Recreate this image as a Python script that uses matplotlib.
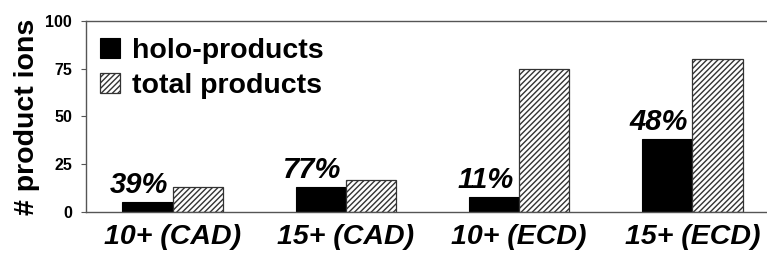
import matplotlib
matplotlib.use("Agg")
import matplotlib.pyplot as plt
import numpy as np

plt.rcParams['font.family'] = ['Liberation Sans', 'DejaVu Sans']
plt.rcParams['hatch.linewidth'] = 1.0

categories = ["10+ (CAD)", "15+ (CAD)", "10+ (ECD)", "15+ (ECD)"]
holo = [5, 13, 8, 38]
total = [13, 17, 75, 80]
pct_labels = ["39%", "77%", "11%", "48%"]
yticks = [0, 25, 50, 75, 100]

fig = plt.figure(figsize=(7.67, 2.57), dpi=100)
W, H = 767, 257
ax = fig.add_axes([86 / W, 45 / H, (779 - 86) / W, 191 / H])

x = np.arange(len(categories))
w = 0.29
ax.bar(x - w / 2, holo, w, color='black', edgecolor='black', linewidth=0.8,
       label='holo-products')
ax.bar(x + w / 2, total, w, color='white', edgecolor='#333333', hatch='//////',
       linewidth=0.9, label='total products')

for xi, h, t in zip(x, holo, pct_labels):
    ax.annotate(t, (xi - w / 2, h), xytext=(-6, 6.5), textcoords='offset points',
                ha='center', va='baseline', fontsize=21, fontweight='bold',
                fontstyle='italic')

ax.set_xlim(-0.5, 3.5)
ax.set_ylim(0, 100)
ax.set_yticks(yticks)
ax.set_yticklabels([str(v) for v in yticks], fontsize=11.5, fontweight='bold')
ax.set_xticks(x)
ax.set_xticklabels(categories, fontsize=20.5, fontweight='bold', fontstyle='italic')
ax.tick_params(axis='x', length=0, pad=9)
ax.tick_params(axis='y', length=3.6, width=0.8, color='#555555', pad=6.5)
ax.set_ylabel('# product ions', fontsize=20.5, fontweight='bold', labelpad=4)

for s in ['left', 'bottom', 'top']:
    ax.spines[s].set_color('#555555')
    ax.spines[s].set_linewidth(1.0)
ax.spines['right'].set_visible(False)

ax.legend(loc='upper left', bbox_to_anchor=(0.0, 0.982), frameon=False,
          prop={'size': 20.5, 'weight': 'bold'}, handlelength=0.7, handleheight=0.7,
          handletextpad=0.42, labelspacing=0.3, borderaxespad=0.09)

fig.savefig('out.png', dpi=100)
